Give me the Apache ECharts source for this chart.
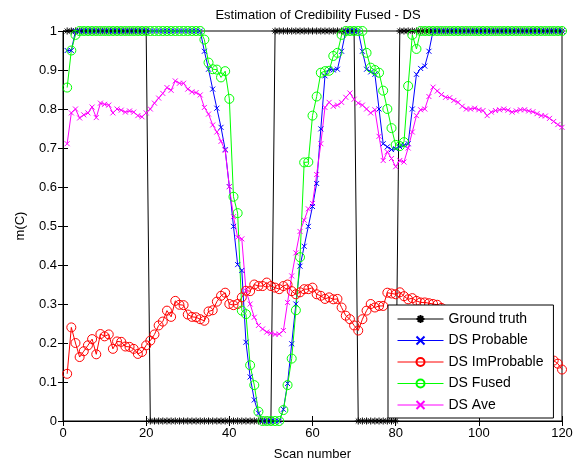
<!DOCTYPE html>
<html>
<head>
<meta charset="utf-8">
<script src="https://cdn.jsdelivr.net/npm/echarts@6/dist/echarts.min.js"></script>
<style>
html,body{margin:0;padding:0;background:#fff;}
#chart{width:580px;height:466px;}
</style>
</head>
<body>
<div id="chart"></div>
<script>
// Scan numbers run 1..120 (one value per scan in each series below)
const groundTruth = [
1,1,1,1,1,1,1,1,1,1, 1,1,1,1,1,1,1,1,1,1,
0,0,0,0,0,0,0,0,0,0, 0,0,0,0,0,0,0,0,0,0,
0,0,0,0,0,0,0,0,0,0, 1,1,1,1,1,1,1,1,1,1,
1,1,1,1,1,1,1,1,1,1, 0,0,0,0,0,0,0,0,0,0,
1,1,1,1,1,1,1,1,1,1, 1,1,1,1,1,1,1,1,1,1,
1,1,1,1,1,1,1,1,1,1, 1,1,1,1,1,1,1,1,1,1
];
const dsProbable = [
0.95,0.95,1,1,1,1,1,1,1,1, 1,1,1,1,1,1,1,1,1,1,
1,1,1,1,1,1,1,1,1,1, 1,1,1,0.948,0.902,0.851,0.802,0.753,0.696,0.601,
0.499,0.401,0.386,0.202,0.113,0.054,0.02,0,0,0, 0,0,0.03,0.096,0.198,0.30,0.397,0.448,0.499,0.55,
0.609,0.749,0.885,0.902,0.90,0.902,0.948,1,1,1, 1,0.948,0.902,0.895,0.889,0.80,0.711,0.703,0.696,0.698,
0.703,0.707,0.711,0.80,0.889,0.904,0.91,0.948,1,1, 1,1,1,1,1,1,1,1,1,1,
1,1,1,1,1,1,1,1,1,1, 1,1,1,1,1,1,1,1,1,1
];
const dsImprobable = [
0.121,0.240,0.200,0.164,0.179,0.194,0.210,0.171,0.223,0.217,
0.222,0.185,0.204,0.203,0.191,0.190,0.185,0.172,0.177,0.194,
0.206,0.222,0.245,0.255,0.283,0.267,0.308,0.298,0.297,0.273,
0.267,0.266,0.261,0.257,0.281,0.284,0.306,0.321,0.329,0.300,
0.297,0.300,0.317,0.334,0.333,0.350,0.346,0.346,0.355,0.346,
0.342,0.338,0.346,0.350,0.333,0.325,0.330,0.338,0.338,0.342,
0.325,0.321,0.313,0.317,0.312,0.313,0.291,0.270,0.261,0.245,
0.232,0.261,0.283,0.300,0.291,0.295,0.295,0.329,0.327,0.325,
0.330,0.320,0.312,0.315,0.308,0.304,0.304,0.302,0.300,0.298,
0.290,0.285,0.280,0.276,0.270,0.262,0.255,0.250,0.244,0.240,
0.232,0.228,0.220,0.215,0.210,0.205,0.200,0.196,0.190,0.188,
0.182,0.178,0.175,0.170,0.168,0.165,0.160,0.155,0.147,0.132
];
const dsFused = [
0.855,0.95,0.99,1,1,1,1,1,1,1, 1,1,1,1,1,1,1,1,1,1,
1,1,1,1,1,1,1,1,1,1, 1,1,1,0.978,0.919,0.902,0.901,0.881,0.897,0.826,
0.575,0.533,0.283,0.274,0.143,0.092,0.024,0,0,0, 0,0,0.028,0.092,0.16,0.284,0.42,0.663,0.664,0.783,
0.832,0.893,0.897,0.898,0.936,0.944,0.99,1,1,1, 1,1,0.944,0.906,0.90,0.893,0.847,0.80,0.751,0.708,
0.705,0.715,0.859,0.99,0.954,1,1,1,1,1, 1,1,1,1,1,1,1,1,1,1,
1,1,1,1,1,1,1,1,1,1, 1,1,1,1,1,1,1,1,1,1
];
const dsAve = [
0.711,0.79,0.80,0.777,0.785,0.79,0.805,0.778,0.815,0.812,
0.81,0.79,0.80,0.797,0.792,0.795,0.792,0.783,0.78,0.79,
0.80,0.815,0.828,0.84,0.855,0.848,0.872,0.866,0.866,0.851,
0.844,0.842,0.836,0.804,0.787,0.759,0.741,0.717,0.694,0.601,
0.524,0.471,0.467,0.334,0.30,0.266,0.245,0.236,0.228,0.225,
0.222,0.223,0.232,0.304,0.372,0.431,0.486,0.515,0.544,0.558,
0.632,0.711,0.804,0.817,0.807,0.81,0.817,0.83,0.841,0.825,
0.815,0.81,0.80,0.79,0.798,0.73,0.668,0.69,0.673,0.652,
0.668,0.664,0.70,0.741,0.783,0.798,0.80,0.832,0.856,0.846,
0.837,0.83,0.829,0.822,0.817,0.807,0.80,0.80,0.802,0.798,
0.796,0.783,0.792,0.796,0.798,0.80,0.797,0.792,0.795,0.798,
0.798,0.795,0.793,0.788,0.783,0.782,0.776,0.768,0.76,0.753
];
const xTicks = [0, 20, 40, 60, 80, 100, 120];
const yTicks = ['0','0.1','0.2','0.3','0.4','0.5','0.6','0.7','0.8','0.9','1'];
const seriesNames = ['Ground truth','DS Probable','DS ImProbable','DS Fused','DS Ave'];

const FONT = 'Liberation Sans';
const toPairs = arr => arr.map((v, i) => [i + 1, v]);

const STAR = 'path://M5,0L5,10M0,5L10,5M1.5,1.5L8.5,8.5M8.5,1.5L1.5,8.5';
const CROSS = 'path://M0,0L10,10M10,0L0,10';

function lineSeries(name, data, color, symbol, size, hollow) {
  return {
    name: name,
    type: 'line',
    data: toPairs(data),
    symbol: symbol,
    symbolSize: size,
    showSymbol: true,
    showAllSymbol: true,
    clip: false,
    animation: false,
    lineStyle: { color: color, width: 1 },
    itemStyle: { color: hollow ? 'rgba(0,0,0,0)' : color, borderColor: color, borderWidth: 1 },
    emphasis: { disabled: true }
  };
}

const chart = echarts.init(document.getElementById('chart'), null, { renderer: 'canvas' });
const axisCommon = {
  type: 'value',
  axisLine: { show: true, lineStyle: { color: '#000', width: 1 } },
  axisTick: { show: true, inside: true, length: 5, lineStyle: { color: '#000' } },
  splitLine: { show: false }
};
chart.setOption({
  backgroundColor: '#fff',
  animation: false,
  title: {
    text: 'Estimation of Credibility Fused - DS',
    left: 313, top: 4, textAlign: 'center',
    textStyle: { fontFamily: FONT, fontSize: 13, fontWeight: 'normal', color: '#000' }
  },
  grid: { left: 63, top: 31, width: 499, height: 393, show: true, borderColor: '#000', borderWidth: 1 },
  legend: {
    data: seriesNames,
    orient: 'vertical',
    left: 388, top: 305,
    backgroundColor: '#fff',
    borderColor: '#000', borderWidth: 1,
    padding: [7, 10, 6, 9],
    itemWidth: 46, itemHeight: 10, itemGap: 7.5,
    lineStyle: { width: 1 },
    textStyle: { fontFamily: FONT, fontSize: 14, color: '#000' }
  },
  xAxis: [
    Object.assign({}, axisCommon, {
      min: xTicks[0], max: xTicks[xTicks.length - 1], interval: xTicks[1] - xTicks[0],
      position: 'bottom',
      axisLabel: { color: '#000', fontFamily: FONT, fontSize: 13, margin: 6 },
      name: 'Scan number', nameLocation: 'middle', nameGap: 27,
      nameTextStyle: { fontFamily: FONT, fontSize: 13, color: '#000' }
    }),
    Object.assign({}, axisCommon, {
      min: xTicks[0], max: xTicks[xTicks.length - 1], interval: xTicks[1] - xTicks[0],
      position: 'top', axisLabel: { show: false }
    })
  ],
  yAxis: [
    Object.assign({}, axisCommon, {
      min: 0, max: 1, interval: 0.1, position: 'left',
      axisLabel: { color: '#000', fontFamily: FONT, fontSize: 13, margin: 6,
        formatter: v => yTicks[Math.round(v * 10)] },
      name: 'm(C)', nameLocation: 'middle', nameGap: 36, nameRotate: 90,
      nameTextStyle: { fontFamily: FONT, fontSize: 13, color: '#000' }
    }),
    Object.assign({}, axisCommon, {
      min: 0, max: 1, interval: 0.1, position: 'right', axisLabel: { show: false }
    })
  ],
  series: [
    lineSeries(seriesNames[0], groundTruth, '#000000', STAR, 7, false),
    lineSeries(seriesNames[1], dsProbable, '#0000ff', CROSS, 5, false),
    lineSeries(seriesNames[2], dsImprobable, '#ff0000', 'circle', 9, true),
    lineSeries(seriesNames[3], dsFused, '#00ff00', 'circle', 9, true),
    lineSeries(seriesNames[4], dsAve, '#ff00ff', CROSS, 5, false)
  ]
});
</script>
</body>
</html>
